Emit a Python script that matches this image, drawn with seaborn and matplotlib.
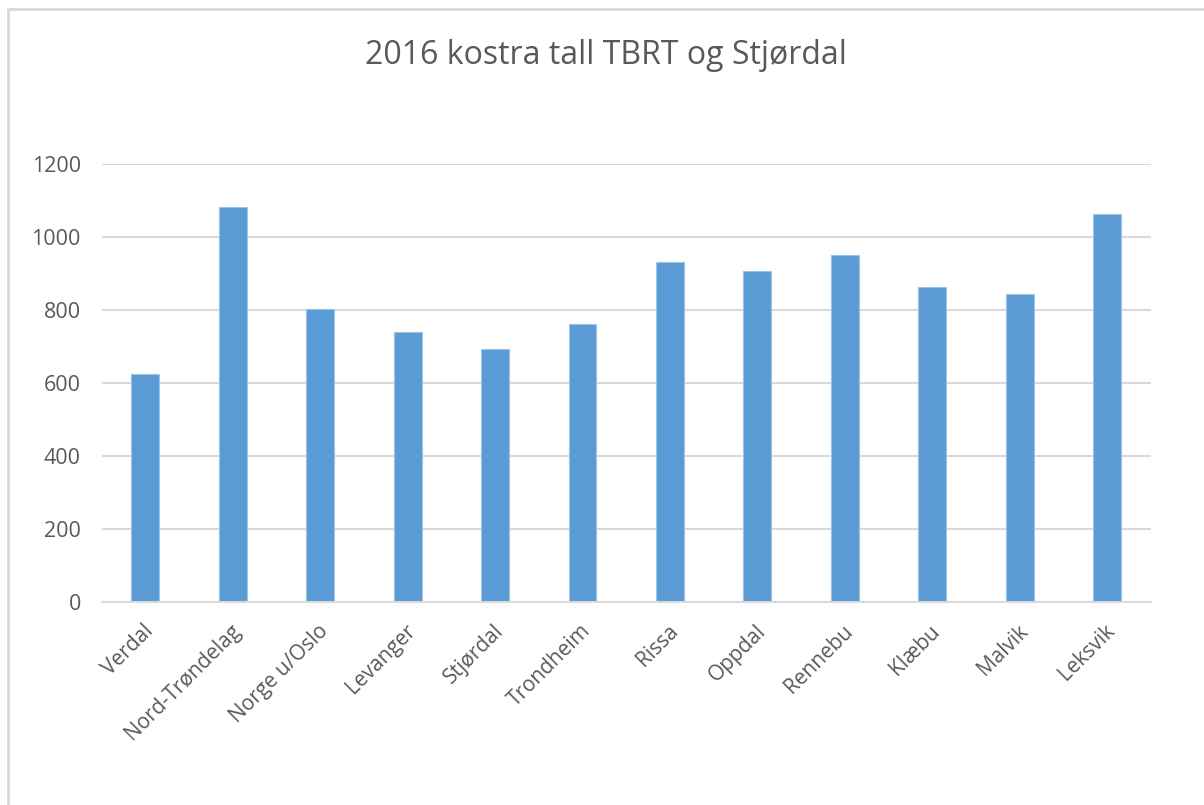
import matplotlib
matplotlib.use("Agg")
import matplotlib.pyplot as plt
import matplotlib.transforms as mtransforms
import seaborn as sns
import pandas as pd
from matplotlib.patches import Rectangle

categories = ["Verdal", "Nord-Trøndelag", "Norge u/Oslo", "Levanger", "Stjørdal",
              "Trondheim", "Rissa", "Oppdal", "Rennebu", "Klæbu", "Malvik", "Leksvik"]
values = [626, 1083, 802, 740, 693, 761, 932, 908, 951, 863, 845, 1063]
yticks = [0, 200, 400, 600, 800, 1000, 1200]
title = "2016 kostra tall TBRT og Stjørdal"

sns.set_theme(style="white")
plt.rcParams['font.family'] = ['Open Sans', 'DejaVu Sans']

df = pd.DataFrame({"cat": categories, "val": values})

W, H = 1204, 805
fig = plt.figure(figsize=(W / 100, H / 100), dpi=100)
left, right, top, bottom = 101.7, 1150.7, 164.3, 601.7
ax = fig.add_axes([left / W, 1 - bottom / H, (right - left) / W, (bottom - top) / H])

sns.barplot(data=df, x="cat", y="val", color="#5B9BD5", width=0.32, ax=ax,
            saturation=1, edgecolor="#9DC3E6", linewidth=0.8)

ax.set_ylim(0, 1200)
ax.set_xlim(-0.5, len(categories) - 0.5)
ax.set_yticks(yticks)
ax.set_yticklabels([str(t) for t in yticks], fontsize=15.5, color="#595959")
ax.yaxis.grid(True, color="#D9D9D9", linewidth=1.5)
ax.set_axisbelow(True)
for s in ["top", "right", "left"]:
    ax.spines[s].set_visible(False)
ax.spines["bottom"].set_color("#D9D9D9")
ax.spines["bottom"].set_linewidth(1.5)
ax.tick_params(axis="y", length=0, pad=15)
ax.tick_params(axis="x", length=0, pad=19)
ax.set_xticks(range(len(categories)))
ax.set_xticklabels(categories, rotation=45, ha="right", va="center",
                   rotation_mode="anchor", fontsize=15, color="#595959")
offset = mtransforms.ScaledTranslation(5 / 100, 0, fig.dpi_scale_trans)
for lab in ax.get_xticklabels():
    lab.set_transform(lab.get_transform() + offset)
ax.set_xlabel("")
ax.set_ylabel("")

fig.text(606 / W, 1 - 56 / H, title, ha="center", va="center", fontsize=23, color="#595959")

fig.patches.append(Rectangle((8 / W, -0.05), (W - 8) / W + 0.05, 1.05 - 9 / H,
                             transform=fig.transFigure, fill=False,
                             edgecolor="#D9D9D9", linewidth=2))

fig.savefig("out.png", dpi=100)
